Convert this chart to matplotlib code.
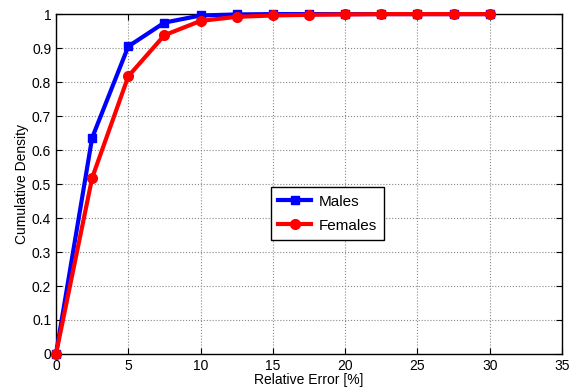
import matplotlib
matplotlib.use("Agg")
import matplotlib.pyplot as plt

plt.rcParams['font.family'] = ['Liberation Sans', 'DejaVu Sans']

x = [0, 2.5, 5, 7.5, 10, 12.5, 15, 17.5, 20, 22.5, 25, 27.5, 30]
males = [0, 0.636, 0.905, 0.975, 0.996, 0.999, 1.0, 1.0, 1.0, 1.0, 1.0, 1.0, 1.0]
females = [0, 0.518, 0.817, 0.938, 0.980, 0.992, 0.996, 0.998, 0.999, 1.0, 1.0, 1.0, 1.0]

fig = plt.figure(figsize=(5.79, 3.92), dpi=100)
ax = fig.add_axes([0.0967, 0.097, 0.874, 0.867])
ax.plot(x, males, color='#0000ff', lw=3, marker='s', ms=6, label='Males', clip_on=False, zorder=3)
ax.plot(x, females, color='#ff0000', lw=3, marker='o', ms=7, label='Females', clip_on=False, zorder=4)
ax.set_xlim(0, 35)
ax.set_ylim(0, 1)
ax.set_xticks(range(0, 36, 5))
ax.set_yticks([i / 10 for i in range(11)])
ax.set_yticklabels(['0', '0.1', '0.2', '0.3', '0.4', '0.5', '0.6', '0.7', '0.8', '0.9', '1'])
ax.grid(True, linestyle=':', color='#888888', lw=0.8)
ax.tick_params(direction='in', top=True, right=True, labelsize=10, length=4)
ax.set_xlabel('Relative Error [%]', fontsize=10, labelpad=0)
ax.set_ylabel('Cumulative Density', fontsize=10, labelpad=2)
for s in ax.spines.values():
    s.set_linewidth(1)
leg = ax.legend(loc='center', bbox_to_anchor=(0.536, 0.413), fontsize=11, fancybox=False,
                edgecolor='black', framealpha=1, handlelength=2.2, labelspacing=0.65,
                borderpad=0.48, handletextpad=0.45, borderaxespad=0)
leg.get_frame().set_linewidth(1)
fig.savefig('out.png', dpi=100)
